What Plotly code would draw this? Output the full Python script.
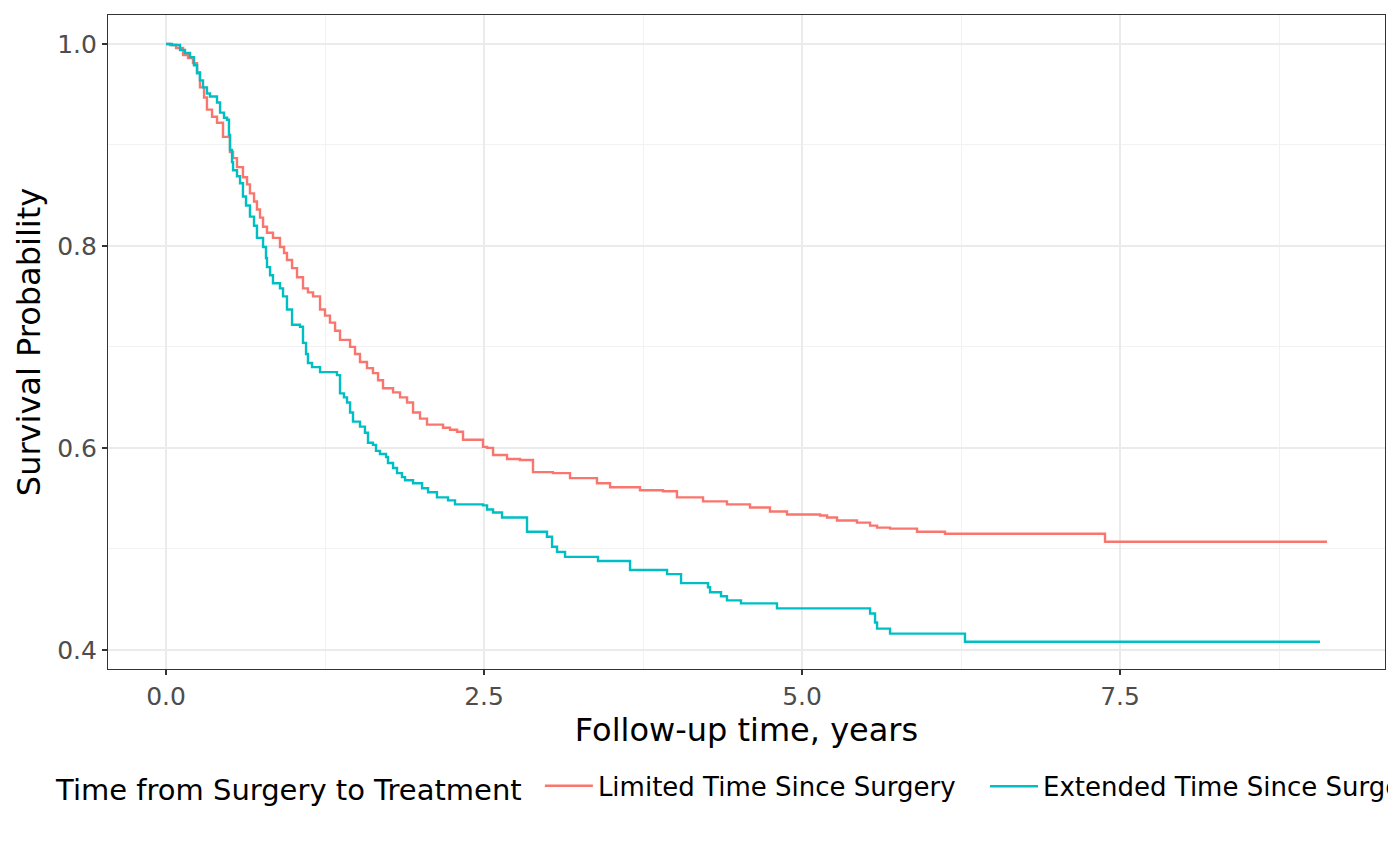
import plotly.graph_objects as go

# Kaplan-Meier step data
limited_time = [0.000, 0.031, 0.079, 0.134, 0.173, 0.212, 0.244, 0.267, 0.299, 0.322,
                0.362, 0.401, 0.448, 0.503, 0.527, 0.558, 0.605, 0.637, 0.660, 0.692,
                0.715, 0.739, 0.763, 0.794, 0.841, 0.896, 0.928, 0.951, 0.991, 1.030,
                1.077, 1.116, 1.156, 1.211, 1.250, 1.289, 1.329, 1.368, 1.447, 1.486,
                1.525, 1.580, 1.627, 1.667, 1.706, 1.785, 1.840, 1.895, 1.942, 1.997,
                2.052, 2.178, 2.233, 2.288, 2.335, 2.492, 2.524, 2.571, 2.681, 2.783,
                2.885, 3.042, 3.176, 3.388, 3.491, 3.726, 3.907, 4.017, 4.222, 4.410,
                4.591, 4.748, 4.882, 5.142, 5.197, 5.275, 5.432, 5.535, 5.590, 5.692,
                5.904, 6.124, 7.382, 9.127]
limited_surv = [1.000, 0.999, 0.996, 0.989, 0.986, 0.981, 0.972, 0.957, 0.947, 0.935,
                0.928, 0.922, 0.908, 0.893, 0.887, 0.878, 0.868, 0.861, 0.852, 0.844,
                0.836, 0.828, 0.819, 0.813, 0.808, 0.799, 0.793, 0.786, 0.778, 0.769,
                0.758, 0.754, 0.750, 0.737, 0.731, 0.724, 0.716, 0.707, 0.700, 0.693,
                0.685, 0.679, 0.674, 0.667, 0.659, 0.655, 0.650, 0.645, 0.635, 0.629,
                0.623, 0.620, 0.618, 0.616, 0.608, 0.601, 0.600, 0.593, 0.589, 0.588,
                0.576, 0.575, 0.570, 0.565, 0.561, 0.558, 0.557, 0.551, 0.547, 0.544,
                0.541, 0.537, 0.534, 0.533, 0.531, 0.528, 0.526, 0.523, 0.521, 0.520,
                0.517, 0.515, 0.507, 0.507]

extended_time = [0.000, 0.047, 0.110, 0.149, 0.189, 0.220, 0.244, 0.267, 0.291, 0.322,
                 0.346, 0.401, 0.425, 0.456, 0.480, 0.495, 0.503, 0.519, 0.527, 0.558,
                 0.582, 0.605, 0.629, 0.660, 0.692, 0.715, 0.763, 0.786, 0.794, 0.818,
                 0.841, 0.896, 0.920, 0.951, 0.991, 1.053, 1.077, 1.101, 1.116, 1.148,
                 1.211, 1.344, 1.368, 1.399, 1.423, 1.447, 1.470, 1.525, 1.564, 1.588,
                 1.627, 1.651, 1.682, 1.730, 1.745, 1.785, 1.816, 1.855, 1.879, 1.942,
                 2.013, 2.060, 2.130, 2.217, 2.272, 2.492, 2.524, 2.571, 2.642, 2.838,
                 2.995, 3.035, 3.074, 3.137, 3.396, 3.648, 3.939, 4.049, 4.261, 4.277,
                 4.363, 4.410, 4.520, 4.803, 5.535, 5.574, 5.590, 5.692, 6.281, 9.072]
extended_surv = [1.000, 0.999, 0.994, 0.991, 0.987, 0.979, 0.971, 0.964, 0.957, 0.951,
                 0.948, 0.942, 0.932, 0.927, 0.925, 0.910, 0.895, 0.883, 0.875, 0.869,
                 0.862, 0.849, 0.840, 0.829, 0.820, 0.808, 0.799, 0.788, 0.779, 0.771,
                 0.763, 0.758, 0.750, 0.737, 0.722, 0.720, 0.704, 0.693, 0.684, 0.680,
                 0.675, 0.672, 0.654, 0.650, 0.645, 0.635, 0.626, 0.621, 0.615, 0.605,
                 0.603, 0.597, 0.594, 0.591, 0.585, 0.580, 0.575, 0.571, 0.568, 0.565,
                 0.560, 0.556, 0.551, 0.548, 0.544, 0.543, 0.539, 0.536, 0.531, 0.517,
                 0.512, 0.502, 0.497, 0.492, 0.488, 0.479, 0.475, 0.466, 0.462, 0.457,
                 0.453, 0.449, 0.446, 0.441, 0.436, 0.427, 0.421, 0.416, 0.408, 0.408]

series_names = ["Limited Time Since Surgery", "Extended Time Since Surgery"]
series_colors = ["#F8766D", "#00BFC4"]
legend_title = "Time from Surgery to Treatment"
x_ticks = [0.0, 2.5, 5.0, 7.5]
x_tick_labels = ["0.0", "2.5", "5.0", "7.5"]
y_ticks = [0.4, 0.6, 0.8, 1.0]
y_tick_labels = ["0.4", "0.6", "0.8", "1.0"]

FONT = "DejaVu Sans"

fig = go.Figure()
for t, s, name, col, lg in zip([limited_time, extended_time], [limited_surv, extended_surv],
                               series_names, series_colors, ["legend", "legend2"]):
    fig.add_trace(go.Scatter(x=t, y=s, mode="lines", name=name, legend=lg,
                             line=dict(color=col, width=2.4, shape="hv")))

axis_common = dict(
    showline=True, mirror=True, linecolor="#333333", linewidth=1.2,
    showgrid=True, gridcolor="#EBEBEB", gridwidth=2,
    ticks="outside", ticklen=5, tickwidth=1.6, tickcolor="#333333",
    tickfont=dict(family=FONT, size=25, color="#4D4D4D"),
    zeroline=False,
)

legend_common = dict(
    orientation="h", yanchor="middle", y=-0.1795, xanchor="left",
    font=dict(family=FONT, size=26, color="black"),
    itemwidth=48, bgcolor="rgba(0,0,0,0)",
)

fig.update_layout(
    width=1400, height=866,
    paper_bgcolor="white", plot_bgcolor="white",
    margin=dict(l=100, r=23, t=7, b=205),
    font=dict(family=FONT),
    xaxis=dict(range=[-0.456, 9.583], tickvals=x_ticks, ticktext=x_tick_labels,
               minor=dict(dtick=1.25, tick0=0, showgrid=True, gridcolor="#F2F2F2",
                          gridwidth=1, ticks=""),
               title=dict(text="Follow-up time, years",
                          font=dict(family=FONT, size=32, color="black"), standoff=4),
               **axis_common),
    yaxis=dict(range=[0.381, 1.0287], tickvals=y_ticks, ticktext=y_tick_labels,
               minor=dict(dtick=0.1, tick0=0, showgrid=True, gridcolor="#F2F2F2",
                          gridwidth=1, ticks=""),
               title=dict(text="Survival Probability",
                          font=dict(family=FONT, size=32, color="black"), standoff=6),
               **axis_common),
    showlegend=True,
    legend=dict(x=-0.0422,
                title=dict(text=legend_title + "\u00a0", side="left",
                           font=dict(family=FONT, size=29, color="black")),
                **legend_common),
    legend2=dict(x=0.6868, entrywidth=340, entrywidthmode="pixels", **legend_common),
)

fig.write_html("out.html")
